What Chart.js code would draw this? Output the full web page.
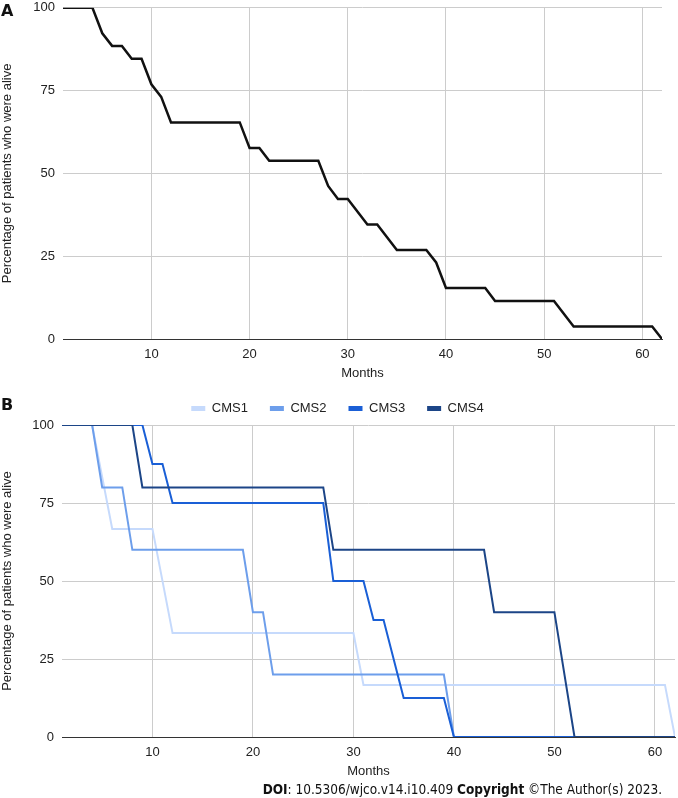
<!DOCTYPE html>
<html>
<head>
<meta charset="utf-8">
<script src="https://cdn.jsdelivr.net/npm/chart.js@4.4.0/dist/chart.umd.min.js"></script>
<style>
  body { margin: 0; background: #fff; }
  #page { position: relative; width: 678px; height: 798px; overflow: hidden; }
  canvas { position: absolute; left: 0; }
  #chartA { top: -8px; }
  #chartB { top: 380px; }
  .tag { position: absolute; left: 1px; font: bold 16px "DejaVu Sans"; line-height: 16px; color: #111; }
  #doi { position: absolute; right: 16px; top: 781px; font: 13.5px "DejaVu Sans Condensed", "DejaVu Sans"; line-height: 16px; color: #111; white-space: nowrap; }
</style>
</head>
<body>
<div id="page">
  <canvas id="chartA" width="678" height="393"></canvas>
  <canvas id="chartB" width="678" height="403"></canvas>
  <div class="tag" style="top:3px">A</div>
  <div class="tag" style="top:397px">B</div>
  <div id="doi"><b>DOI</b>: 10.5306/wjco.v14.i10.409 <b>Copyright</b> ©The Author(s) 2023.</div>
</div>
<script>
// axis ticks
const monthTicks = [10, 20, 30, 40, 50, 60];
const percentTicks = [0, 25, 50, 75, 100];

// panel A: all patients
const allMonths = [1, 4, 5, 6, 7, 8, 9, 10, 11, 12, 19, 20, 21, 22, 27, 28, 29, 30, 32, 33, 35, 38, 39, 40, 44, 45, 51, 53, 61, 62];
const allAlive = [100, 100, 92.3, 88.5, 88.5, 84.6, 84.6, 76.9, 73.1, 65.4, 65.4, 57.7, 57.7, 53.8, 53.8, 46.2, 42.3, 42.3, 34.6, 34.6, 26.9, 26.9, 23.1, 15.4, 15.4, 11.5, 11.5, 3.8, 3.8, 0];

// panel B: by consensus molecular subtype
const cmsLabels = ['CMS1', 'CMS2', 'CMS3', 'CMS4'];
const cms1Months = [1, 4, 5, 6, 10, 12, 30, 31, 61, 62];
const cms1Alive = [100, 100, 83.3, 66.7, 66.7, 33.3, 33.3, 16.7, 16.7, 0];
const cms2Months = [1, 4, 5, 7, 8, 19, 20, 21, 22, 39, 40, 62];
const cms2Alive = [100, 100, 80, 80, 60, 60, 40, 40, 20, 20, 0, 0];
const cms3Months = [1, 9, 10, 11, 12, 27, 28, 31, 32, 33, 35, 39, 40, 62];
const cms3Alive = [100, 100, 87.5, 87.5, 75, 75, 50, 50, 37.5, 37.5, 12.5, 12.5, 0, 0];
const cms4Months = [1, 8, 9, 27, 28, 43, 44, 50, 52, 62];
const cms4Alive = [100, 100, 80, 80, 60, 60, 40, 40, 0, 0];

Chart.defaults.font.family = '"Liberation Sans", Arial, sans-serif';
Chart.defaults.font.size = 13;
Chart.defaults.color = '#222';

const toPoints = (months, alive) => months.map((m, i) => ({ x: m, y: alive[i] }));

function scales(yWidth) {
  return {
    x: {
      type: 'linear', min: 1, max: 62,
      afterBuildTicks: s => { s.ticks = monthTicks.map(v => ({ value: v })); },
      afterFit: s => { s.height = 46; },
      grid: { color: '#ccc', drawTicks: false },
      border: { color: '#333', width: 1 },
      ticks: { padding: 8 },
      title: { display: true, text: 'Months', padding: { top: 0, bottom: 4 } }
    },
    y: {
      min: 0, max: 100,
      afterBuildTicks: s => { s.ticks = percentTicks.map(v => ({ value: v })); },
      afterFit: s => { s.width = yWidth; },
      grid: { color: '#ccc', drawTicks: false },
      border: { display: false },
      ticks: { padding: 8 },
      title: { display: true, text: 'Percentage of patients who were alive', padding: { top: 0, bottom: 0 } }
    }
  };
}

new Chart(document.getElementById('chartA'), {
  type: 'line',
  data: {
    datasets: [{
      label: 'All',
      data: toPoints(allMonths, allAlive),
      borderColor: '#111',
      borderWidth: 2.5,
      pointRadius: 0,
      tension: 0
    }]
  },
  options: {
    responsive: false,
    animation: false,
    layout: { padding: { left: 0, right: 16, top: 0, bottom: 0 } },
    plugins: { legend: { display: false }, tooltip: { enabled: false } },
    scales: scales(63)
  }
});

const cmsColors = ['#c6dafc', '#6d9eeb', '#1a5fd6', '#1c4587'];
const cmsData = [
  toPoints(cms1Months, cms1Alive),
  toPoints(cms2Months, cms2Alive),
  toPoints(cms3Months, cms3Alive),
  toPoints(cms4Months, cms4Alive)
];

new Chart(document.getElementById('chartB'), {
  type: 'line',
  data: {
    datasets: cmsLabels.map((label, i) => ({
      label,
      data: cmsData[i],
      borderColor: cmsColors[i],
      backgroundColor: cmsColors[i],
      borderWidth: 2,
      pointRadius: 0,
      tension: 0,
      order: cmsLabels.length - i
    }))
  },
  options: {
    responsive: false,
    animation: false,
    layout: { padding: { left: 0, right: 3, top: 0, bottom: 0 } },
    plugins: {
      tooltip: { enabled: false },
      legend: {
        position: 'top',
        labels: {
          boxWidth: 14,
          boxHeight: 5,
          padding: 22,
          sort: (a, b) => a.datasetIndex - b.datasetIndex,
          generateLabels: chart => Chart.defaults.plugins.legend.labels.generateLabels(chart)
            .map(l => ({ ...l, lineWidth: 0 }))
        }
      }
    },
    scales: scales(62)
  }
});
</script>
</body>
</html>
